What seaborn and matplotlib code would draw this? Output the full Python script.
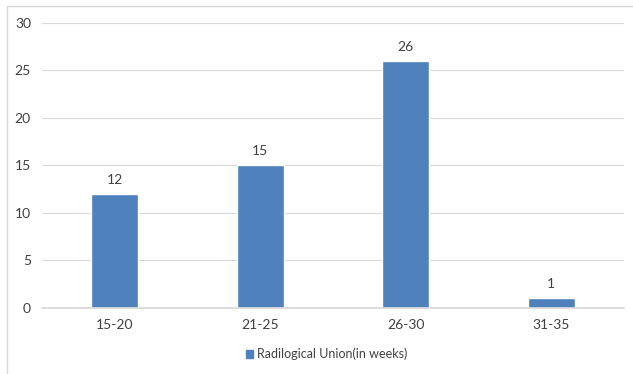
import matplotlib
matplotlib.use("Agg")
import matplotlib.pyplot as plt
import seaborn as sns
import pandas as pd
from matplotlib.patches import Rectangle

categories = ["15-20", "21-25", "26-30", "31-35"]
values = [12, 15, 26, 1]
series_name = "Radilogical Union(in weeks)"
y_ticks = [0, 5, 10, 15, 20, 25, 30]

sns.set_theme(style="white")
plt.rcParams["font.family"] = ["Lato", "DejaVu Sans"]

df = pd.DataFrame({"range": categories, "count": values})

fig = plt.figure(figsize=(6.33, 3.74), dpi=100)
ax = fig.add_axes([0.0664, 0.1765, 0.9194, 0.762])

bar_color = "#4f81bd"
sns.barplot(data=df, x="range", y="count", color=bar_color, width=0.32,
            saturation=1, ax=ax, label=series_name)

ax.set_ylim(0, 30)
ax.set_yticks(y_ticks)
ax.set_xlim(-0.5, len(categories) - 0.5)
ax.grid(axis="y", color="#d9d9d9", linewidth=0.8)
ax.set_axisbelow(True)
for s in ["top", "right", "left"]:
    ax.spines[s].set_visible(False)
ax.spines["bottom"].set_color("#d9d9d9")
ax.set_xlabel("")
ax.set_ylabel("")
ax.tick_params(axis="both", length=0, labelsize=10, colors="#404040", pad=8)
ax.tick_params(axis="y", pad=8)

for container in ax.containers:
    ax.bar_label(container, fmt="%g", padding=6, fontsize=10, color="#404040")

handles = [Rectangle((0, 0), 1, 1, color=bar_color)]
fig.legend(handles, [series_name], loc="center", bbox_to_anchor=(0.516, 0.053),
           frameon=False, fontsize=9, handlelength=0.6, handleheight=0.6,
           handletextpad=0.3, labelcolor="#404040")
if ax.get_legend() is not None:
    ax.get_legend().remove()

# outer chart border
fig.patches.append(Rectangle((7 / 633, -0.01), 1.0, 1 - 6 / 374 + 0.01,
                             transform=fig.transFigure, fill=False,
                             edgecolor="#d9d9d9", linewidth=1))

fig.savefig("out.png", dpi=100)
